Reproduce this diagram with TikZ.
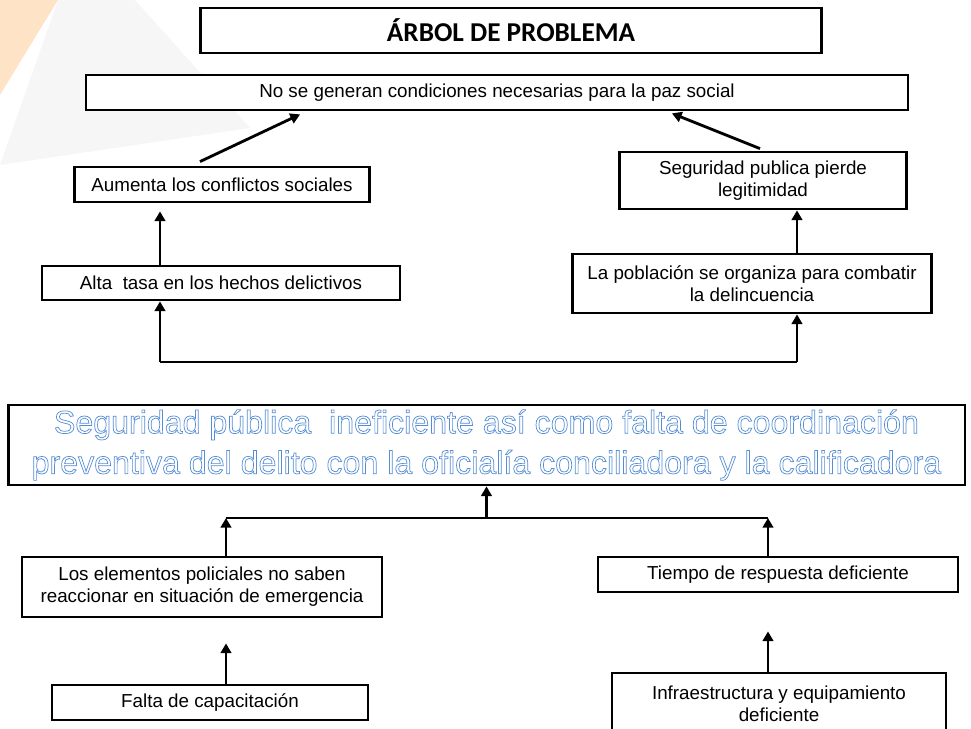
\documentclass[tikz,border=0pt]{standalone}
\usepackage{fontspec}
\setmainfont{Liberation Sans}
\newfontfamily\titlefont{Carlito}
\usetikzlibrary{arrows.meta, positioning}

\definecolor{outblue}{RGB}{84,141,212}
% hollow letters: white fill, blue stroke
\newcommand\hollow[1]{{\color{outblue}\special{pdf:literal direct 2 Tr 0.4 w 1 1 1 rg}#1\special{pdf:literal direct 0 Tr}}}

\begin{document}
\begin{tikzpicture}[
    x=0.02cm, y=-0.02cm,
    box/.style={rectangle, draw, line width=1.6pt, fill=white, align=center, inner sep=1pt, font=\fontsize{10.7}{12.6}\selectfont},
    title/.style={box, font=\titlefont\bfseries\fontsize{15.5}{18}\selectfont},
    core/.style={box, font=\fontsize{18.3}{23}\selectfont},
    arrow/.style={-{Triangle[length=5.5pt,width=6pt]}, line width=1.6pt},
    joint/.style={line width=1.6pt}
]
    \useasboundingbox (0,0) rectangle (971,729);
    \clip (0,0) rectangle (971,729);
    % background
    \fill[orange!22] (0,0) -- (58,0) -- (0,95) -- cycle;
    \fill[gray!7] (0,165) -- (58,0) -- (135,0) -- (250,128) -- cycle;

    % effects
    \node[title, minimum width=12.42cm, minimum height=0.9cm] (titulo) at (511,30.5) {ÁRBOL DE PROBLEMA};
    \node[box, minimum width=16.44cm, minimum height=0.7cm] (paz) at (497,92.5) {No se generan condiciones necesarias para la paz social};
    \node[box, minimum width=5.9cm, minimum height=0.7cm] (conflictos) at (222,184.5) {Aumenta los conflictos sociales};
    \node[box, minimum width=7.16cm, minimum height=0.68cm] (tasa) at (221,283) {Alta\ \ tasa en los hechos delictivos};
    \node[box, minimum width=5.74cm, minimum height=1.14cm] (legitimidad) at (763,180.5) {Seguridad publica pierde\\legitimidad};
    \node[box, minimum width=7.18cm, minimum height=1.18cm] (poblacion) at (752,283.5) {La población se organiza para combatir\\la delincuencia};

    % central problem
    \node[core, minimum width=19.14cm, minimum height=1.6cm] (problema) at (486.5,445)
        {\hollow{Seguridad pública\ \ ineficiente así como falta de coordinación}\\\hollow{preventiva del delito con la oficialía conciliadora y la calificadora}};

    % causes
    \node[box, minimum width=7.2cm, minimum height=1.2cm] (elementos) at (202,587) {Los elementos policiales no saben\\reaccionar en situación de emergencia};
    \node[box, minimum width=7.2cm, minimum height=0.7cm] (tiempo) at (778,574.5) {Tiempo de respuesta deficiente};
    \node[box, minimum width=6.32cm, minimum height=0.7cm] (capacitacion) at (210,702.5) {Falta de capacitación};
    \node[box, minimum width=6.68cm, minimum height=1.24cm] (infra) at (779,704) {Infraestructura y equipamiento\\deficiente};

    \coordinate (jl) at (160,362);
    \coordinate (jr) at (797,362);
    \coordinate (kl) at (226,518);
    \coordinate (km) at (486.5,518);
    \coordinate (kr) at (768,518);

    % upper tree
    \draw[arrow] ([xshift=-0.44cm, yshift=0.08cm]conflictos.north) -- ([xshift=-3.94cm, yshift=-0.06cm]paz.south);
    \draw[arrow] ([xshift=-0.06cm, yshift=0.04cm]legitimidad.north) -- ([xshift=3.5cm, yshift=-0.04cm]paz.south);
    \draw[arrow, shorten >=0.16cm] (jl |- tasa.north) -- (jl |- conflictos.south);
    \draw[arrow] (jr |- poblacion.north) -- (jr |- legitimidad.south);
    \draw[joint] (jl) -- (jr);
    \draw[arrow] (jl) -- (jl |- tasa.south);
    \draw[arrow] (jr) -- (jr |- poblacion.south);

    % lower tree
    \draw[joint] (kl) -- (kr);
    \draw[arrow] (km) -- (km |- problema.south);
    \draw[arrow] (kl |- elementos.north) -- (kl);
    \draw[arrow] (kr |- tiempo.north) -- (kr);
    \draw[arrow, shorten >=0.5cm] (kl |- capacitacion.north) -- (kl |- elementos.south);
    \draw[arrow, shorten >=0.76cm] (kr |- infra.north) -- (kr |- tiempo.south);
\end{tikzpicture}
\end{document}
